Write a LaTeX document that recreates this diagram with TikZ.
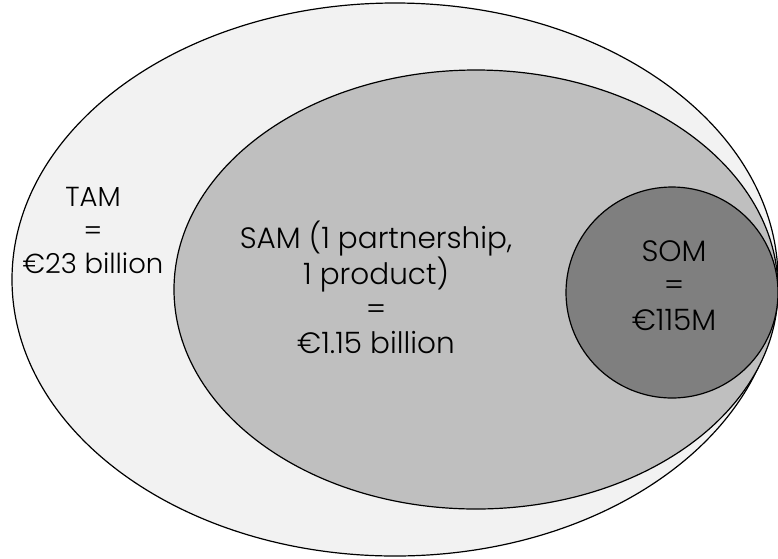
\documentclass[tikz,border=0pt]{standalone}
\usepackage{fontspec}
\setmainfont{Poppins Light}
\begin{document}
\begin{tikzpicture}[x=1pt,y=-1pt,
  ring/.style={draw=black,line width=1.2pt},
  lbl/.style={align=center,text=black,inner sep=0pt},
  small/.style={font=\fontsize{27.5}{33.5}\selectfont},
  big/.style={font=\fontsize{29.5}{34.4}\selectfont}]
\useasboundingbox (0,0) rectangle (778,558);
\draw[ring,fill={rgb,255:red,242;green,242;blue,242}] (395,279.5) ellipse [x radius=383,y radius=276.5];
\draw[ring,fill={rgb,255:red,191;green,191;blue,191}] (476,289.5) ellipse [x radius=302,y radius=219.5];
\draw[ring,fill={rgb,255:red,127;green,127;blue,127}] (672,292.5) ellipse [x radius=106,y radius=105.5];
\node[lbl,small] (tam) at (93,230.5) {TAM\\=\\€23 billion};
\node[lbl,big] (sam) at (376,287.5) {SAM (1 partnership,\\1 product)\\=\\€1.15 billion};
\node[lbl,big] (som) at (674,285.5) {SOM\\=\\€115M};
\end{tikzpicture}
\end{document}
